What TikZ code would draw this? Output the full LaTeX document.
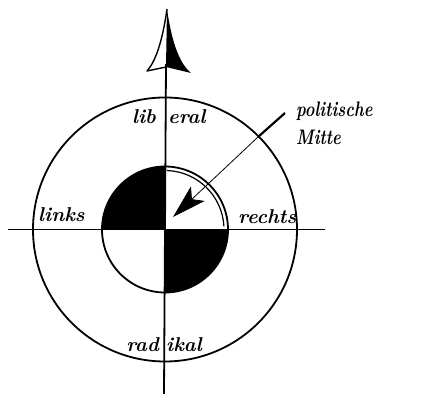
\documentclass[tikz,border=0pt]{standalone}
\usetikzlibrary{arrows.meta}
\begin{document}
\begin{tikzpicture}[x=1pt,y=1pt,
  axis/.style={line width=1.8pt},
  ring/.style={line width=1.8pt},
  lbl/.style={inner sep=0pt,font=\fontsize{20}{24}\selectfont\bfseries\itshape},
  hand/.style={inner sep=0pt,font=\fontsize{21}{26}\selectfont\bfseries\itshape}]
\useasboundingbox (0,0) rectangle (437,394);
\coordinate (C) at (165,164.5);
% big circle
\draw[ring] (C) circle[radius=132pt];
% small circle quadrants
\fill (C) -- ++(180:63pt) arc[start angle=180,end angle=90,radius=63pt] -- cycle;
\fill (C) -- ++(0:63pt) arc[start angle=0,end angle=-90,radius=63pt] -- cycle;
\draw[ring] (C) circle[radius=63pt];
\draw[line width=1.2pt] (C) ++(3:59pt) arc[start angle=3,end angle=88,radius=59pt];
% axes
\coordinate (L) at (8,164.5);
\coordinate (R) at (325,164.5);
\coordinate (T) at (166,330);
\coordinate (B) at (164,0);
\draw[axis] (L) -- (R);
\draw[axis] (B) -- (T);
% top arrowhead (half open, half filled)
\coordinate (tip) at (167,385);
\fill (tip) .. controls (172,350) and (180,330) .. (191,321) -- (166,327) -- cycle;
\draw[line width=1.4pt,line join=round] (tip) .. controls (162,350) and (155,332) .. (147,323) -- (166,327);
% pointer to political centre
\coordinate (P) at (285,281);
\coordinate (Q) at (258,257);
\coordinate (M) at (173,177);
\draw[line width=2.2pt] (P) -- (Q);
\draw[line width=0.8pt,-{Stealth[length=34pt,width=20pt,inset=8pt]}] (Q) -- (M);
% labels
\node[lbl,anchor=base west] (links) at (38,172) {links};
\node[lbl,anchor=base west] (rechts) at (238,170) {rechts};
\node[lbl,anchor=base east] (lib) at (156,270) {lib};
\node[lbl,anchor=base west] (eral) at (168,270) {eral};
\node[lbl,anchor=base east] (rad) at (159,42) {rad};
\node[lbl,anchor=base west] (ikal) at (166,42) {ikal};
\node[hand,anchor=base west] (pol) at (296,277) {\scalebox{0.78}[1]{politische}};
\node[hand,anchor=base west] (mitte) at (296,249) {\scalebox{0.78}[1]{Mitte}};
\end{tikzpicture}
\end{document}
